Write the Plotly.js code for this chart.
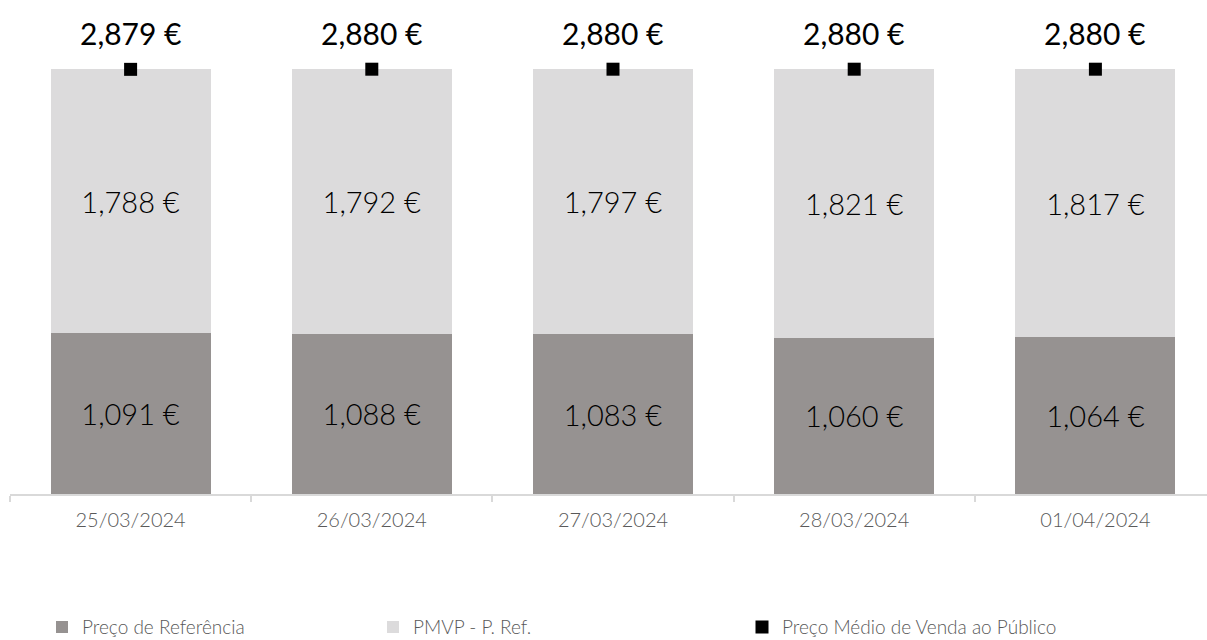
<!DOCTYPE html>
<html>
<head>
<meta charset="utf-8">
<script src="https://cdn.plot.ly/plotly-3.0.1.min.js"></script>
<style>
html,body{margin:0;padding:0;overflow:hidden;background:#fff;}
#chart{width:1216px;height:640px;}
</style>
</head>
<body>
<div id="chart"></div>
<script>
const categories = ["25/03/2024", "26/03/2024", "27/03/2024", "28/03/2024", "01/04/2024"];
const precoReferencia = [1.091, 1.088, 1.083, 1.060, 1.064];
const pmvpMinusRef = [1.788, 1.792, 1.797, 1.821, 1.817];
const precoMedio = [2.879, 2.880, 2.880, 2.880, 2.880];
const seriesNames = ["Preço de Referência", "PMVP - P. Ref.", "Preço Médio de Venda ao Público"];

const fmt = v => v.toFixed(3).replace(".", ",") + " €";
const FONT = "Lato, 'Open Sans', sans-serif";

const traces = [
  {
    type: "bar", name: seriesNames[0], x: categories, y: precoReferencia,
    marker: {color: "#969291"},
    text: precoReferencia.map(fmt), textposition: "inside", insidetextanchor: "middle",
    textfont: {family: FONT, size: 29, color: "#000000", weight: 300}, constraintext: "none",
    hoverinfo: "x+y", legend: "legend"
  },
  {
    type: "bar", name: seriesNames[1], x: categories, y: pmvpMinusRef,
    marker: {color: "#dcdbdc"},
    text: pmvpMinusRef.map(fmt), textposition: "inside", insidetextanchor: "middle",
    textfont: {family: FONT, size: 29, color: "#000000", weight: 300}, constraintext: "none",
    hoverinfo: "x+y", legend: "legend2"
  },
  {
    type: "scatter", mode: "markers", name: seriesNames[2], x: categories, y: precoMedio,
    marker: {symbol: "square", size: 13, color: "#000000"},
    cliponaxis: false, legend: "legend3"
  }
];

const annotations = categories.map((c, i) => ({
  x: c, y: precoMedio[i], xref: "x", yref: "y",
  text: fmt(precoMedio[i]), showarrow: false, yshift: 36,
  font: {family: FONT, size: 30, color: "#000000"}
}));

const legendBase = {
  orientation: "h", xref: "container", yref: "container",
  yanchor: "middle", xanchor: "left", y: 0.02,
  font: {family: FONT, size: 19, color: "#595959", weight: 300},
  bgcolor: "rgba(0,0,0,0)", itemwidth: 30, itemclick: false, itemdoubleclick: false
};

const layout = {
  width: 1216, height: 640,
  margin: {l: 10, r: 0, t: 22, b: 146},
  barmode: "stack", bargap: 0.337,
  paper_bgcolor: "#ffffff", plot_bgcolor: "#ffffff",
  font: {family: FONT},
  xaxis: {
    type: "category", showline: true, linecolor: "#d9d9d9", linewidth: 1.5,
    ticks: "outside", tickson: "boundaries", ticklen: 6, tickcolor: "#d9d9d9", tickwidth: 1.5,
    ticklabelstandoff: 7,
    showgrid: false, zeroline: false,
    tickfont: {family: FONT, size: 20, color: "#595959", weight: 300}
  },
  yaxis: {range: [0, 3.2], visible: false, showgrid: false, zeroline: false},
  showlegend: true,
  legend: Object.assign({}, legendBase, {x: 42 / 1216}),
  legend2: Object.assign({}, legendBase, {x: 373 / 1216}),
  legend3: Object.assign({}, legendBase, {x: 742 / 1216}),
  annotations: annotations
};

Plotly.newPlot("chart", traces, layout, {displayModeBar: false, responsive: false});
</script>
</body>
</html>
